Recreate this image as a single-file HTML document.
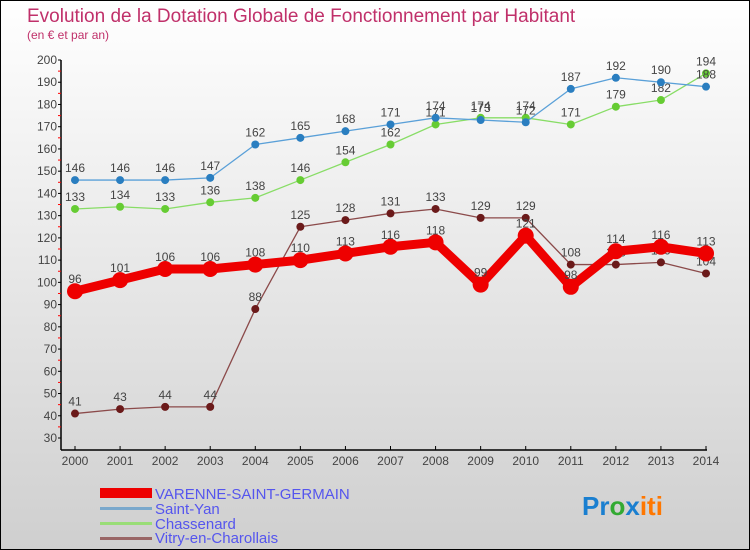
<!DOCTYPE html>
<html><head><meta charset="utf-8"><style>
body{margin:0}
svg{display:block;font-family:"Liberation Sans",sans-serif}
</style></head><body>
<svg id="c" width="750" height="550" viewBox="0 0 750 550">
<defs><linearGradient id="bg" x1="0" y1="0" x2="0" y2="1"><stop offset="0" stop-color="#ffffff"/><stop offset="1" stop-color="#cfcfcf"/></linearGradient></defs>
<rect x="0.5" y="0.5" width="749" height="549" fill="url(#bg)" stroke="#000"/>
<text x="27" y="22" font-size="19" fill="#c0306a">Evolution de la Dotation Globale de Fonctionnement par Habitant</text>
<text x="27" y="39" font-size="12" fill="#c0306a">(en € et par an)</text>
<g id="axes"></g>
<g id="series"></g>
<g id="legend">
<rect x="100" y="488" width="52" height="10" fill="#e00"/>
<text x="155" y="499" font-size="15" fill="#5555ee">VARENNE-SAINT-GERMAIN</text>
<rect x="100" y="507" width="52" height="3" fill="#7aa8cc"/>
<text x="155" y="514" font-size="15" fill="#5555ee">Saint-Yan</text>
<rect x="100" y="522" width="52" height="3" fill="#99dd77"/>
<text x="155" y="529" font-size="15" fill="#5555ee">Chassenard</text>
<rect x="100" y="537" width="52" height="3" fill="#996666"/>
<text x="155" y="543" font-size="15" fill="#5555ee">Vitry-en-Charollais</text>
</g>
<text x="582" y="515" font-size="26" font-weight="bold"><tspan fill="#1a7fd0">Pr</tspan><tspan fill="#33aa33">o</tspan><tspan fill="#1a7fd0">x</tspan><tspan fill="#ff7700">iti</tspan></text>
</svg>
<script>
const years=[2000,2001,2002,2003,2004,2005,2006,2007,2008,2009,2010,2011,2012,2013,2014];
const yTicks=[30,40,50,60,70,80,90,100,110,120,130,140,150,160,170,180,190,200];
const varenne=[96,101,106,106,108,110,113,116,118,99,121,98,114,116,113];
const saintYan=[146,146,146,147,162,165,168,171,174,173,172,187,192,190,188];
const chassenard=[133,134,133,136,138,146,154,162,171,174,174,171,179,182,194];
const vitry=[41,43,44,44,88,125,128,131,133,129,129,108,108,109,104];
const NS="http://www.w3.org/2000/svg";
function X(i){return 75+i*(706-75)/(years.length-1);}
function Y(v){return 438-(v-30)*(438-60)/170;}
function mk(t,a,p){const e=document.createElementNS(NS,t);for(const k in a)e.setAttribute(k,a[k]);p.appendChild(e);return e;}
const ax=document.getElementById('axes');
let e=mk('line',{x1:61,y1:60,x2:61,y2:450,stroke:'#000','stroke-width':1.5},ax);


e=mk('line',{x1:61,y1:450,x2:707,y2:450,stroke:'#000','stroke-width':1.5},ax);


yTicks.forEach(v=>{
 mk('line',{x1:58,y1:Y(v),x2:61,y2:Y(v),stroke:'#000'},ax);
 if(v<200)mk('line',{x1:58,y1:Y(v+5),x2:61,y2:Y(v+5),stroke:'#f00'},ax);
 const t=mk('text',{x:57,y:Y(v)+4,'font-size':12,fill:'#444','text-anchor':'end'},ax);
 t.textContent=v;
 
 
});
years.forEach((y,i)=>{
 mk('line',{x1:X(i),y1:446,x2:X(i),y2:450,stroke:'#000'},ax);
 const t=mk('text',{x:X(i),y:465,'font-size':12,fill:'#444','text-anchor':'middle'},ax);
 t.textContent=y;
 
 
});
const sg=document.getElementById('series');
function draw(data,color,lw,r,name,dot){
 const g=mk('g',{},sg);
 
 
 const l=mk('polyline',{points:data.map((v,i)=>X(i)+','+Y(v)).join(' '),fill:'none',stroke:color,'stroke-width':lw,'stroke-linejoin':'round'},g);
 
 
 data.forEach((v,i)=>{
  const c=mk('circle',{cx:X(i),cy:Y(v),r:r,fill:dot},g);
  
  
  const t=mk('text',{x:X(i),y:Y(v)-8,'font-size':12,fill:'#444','text-anchor':'middle'},g);
  t.textContent=v;
  
  
 });
}
draw(vitry,'#8b4a4a',1.3,4,'vitry','#6b1a1a');
draw(chassenard,'#88dd66',1.3,4,'chassenard','#66cc33');
draw(saintYan,'#5aa0d8',1.3,4,'saint-yan','#2a7ec0');
draw(varenne,'#ee0000',9,8,'varenne','#ee0000');
</script>
</body></html>
